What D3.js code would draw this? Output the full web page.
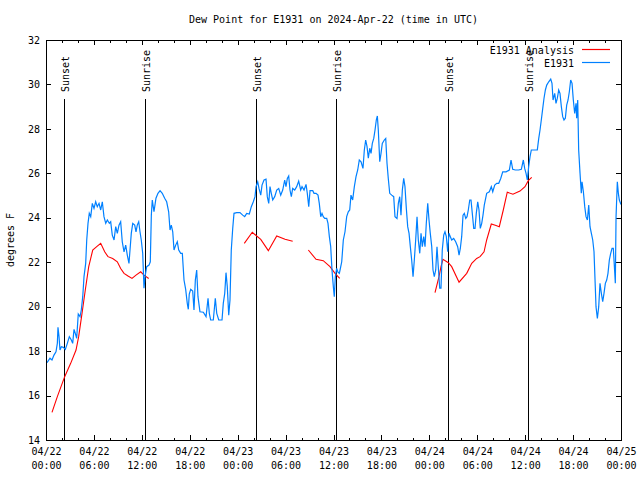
<!DOCTYPE html>
<html><head><meta charset="utf-8">
<script src="https://cdn.jsdelivr.net/npm/d3@7"></script>
<style>
body{margin:0;background:#fff;}
text{font-family:"DejaVu Sans Mono",monospace;font-size:10px;fill:#000;}
</style></head>
<body><svg id="c" width="640" height="480"></svg>
<script>
const title = "Dew Point for E1931 on 2024-Apr-22 (time in UTC)";
const yLabel = "degrees F";
const seriesNames = ["E1931 Analysis", "E1931"];
const seriesColors = ["#ff0000", "#0080ff"];
// hours since 2024-04-22 00:00 UTC
const obsHours = [0.13,0.50,0.75,1.00,1.25,1.42,1.50,1.63,1.75,1.92,2.17,2.42,2.67,2.92,3.17,3.34,3.51,3.67,3.84,4.04,4.26,4.42,4.60,4.76,4.97,5.10,5.26,5.42,5.60,5.80,6.01,6.22,6.42,6.64,6.85,7.05,7.26,7.48,7.68,7.93,8.10,8.30,8.52,8.73,8.93,9.14,9.35,9.55,9.77,9.98,10.18,10.39,10.52,10.68,10.86,11.11,11.27,11.43,11.61,11.77,11.93,12.11,12.27,12.40,12.61,12.90,13.06,13.19,13.31,13.52,13.77,14.02,14.28,14.56,14.86,15.11,15.36,15.53,15.69,15.87,16.03,16.24,16.44,16.62,16.87,17.07,17.28,17.49,17.69,17.82,17.94,18.12,18.37,18.53,18.70,18.87,19.03,19.28,19.70,20.04,20.29,20.45,20.62,20.95,21.20,21.38,21.63,22.04,22.20,22.38,22.54,22.70,22.88,23.04,23.20,23.38,23.54,23.88,24.29,24.63,24.88,25.13,25.46,25.71,25.96,26.17,26.30,26.51,26.67,26.89,27.05,27.30,27.55,27.71,27.89,28.05,28.21,28.39,28.64,28.89,29.14,29.39,29.64,29.89,30.05,30.22,30.39,30.55,30.72,30.89,31.14,31.39,31.64,31.89,32.06,32.31,32.56,32.72,32.90,33.06,33.40,33.56,33.81,34.06,34.22,34.40,34.56,34.72,34.90,35.15,35.31,35.48,35.65,35.81,35.98,36.10,36.23,36.40,36.56,36.73,36.82,37.03,37.23,37.44,37.65,37.85,38.03,38.19,38.40,38.61,38.82,39.03,39.23,39.45,39.69,39.86,40.03,40.20,40.36,40.54,40.70,40.86,41.04,41.20,41.36,41.49,41.61,41.79,41.95,42.11,42.36,42.54,42.70,42.86,43.04,43.29,43.54,43.70,43.95,44.12,44.29,44.45,44.62,44.79,44.95,45.12,45.29,45.46,45.62,45.79,45.96,46.12,46.29,46.46,46.62,46.80,46.96,47.12,47.30,47.46,47.62,47.80,47.96,48.12,48.30,48.46,48.62,48.80,48.96,49.12,49.30,49.46,49.62,49.80,49.96,50.13,50.30,50.46,50.63,50.80,51.05,51.30,51.55,51.72,51.88,52.05,52.22,52.38,52.56,52.72,52.88,53.06,53.22,53.38,53.56,53.72,53.88,54.06,54.22,54.38,54.56,54.72,54.88,55.18,55.51,55.76,55.94,56.19,56.44,56.69,56.94,57.19,57.60,58.02,58.23,58.44,58.77,59.19,59.52,59.77,59.94,60.11,60.27,60.44,60.61,60.77,61.20,61.52,61.70,61.86,62.02,62.20,62.36,62.53,62.70,62.95,63.20,63.36,63.49,63.70,63.86,64.03,64.20,64.36,64.53,64.70,64.86,65.03,65.20,65.37,65.53,65.70,65.87,66.03,66.20,66.37,66.45,66.58,66.70,66.87,67.03,67.12,67.29,67.46,67.62,67.79,67.96,68.12,68.29,68.46,68.62,68.78,68.87,69.04,69.21,69.37,69.54,69.71,69.87,70.04,70.21,70.37,70.54,70.71,70.88,71.04,71.22,71.29,71.38,71.54,71.67,71.79,72.00];
const obsValues = [17.48,17.68,17.6,17.82,17.97,18.35,19.07,18.65,18.05,18.2,18.17,18.08,18.35,18.65,18.5,18.35,18.98,18.8,18.58,19.67,19.55,19.85,20.45,21.35,21.95,23.0,23.75,24.2,24.05,24.65,24.42,24.72,24.5,24.65,24.35,24.72,24.05,23.75,23.9,23.75,23.82,23.22,23.0,23.6,23.3,23.67,23.82,22.92,22.47,22.77,22.32,21.95,22.55,23.3,23.75,23.67,23.37,23.67,23.82,23.37,23.0,22.4,20.83,21.35,21.8,21.87,22.02,24.12,24.8,24.27,24.88,25.1,25.22,25.1,24.88,24.72,24.27,23.45,23.67,23.37,22.55,22.77,22.92,22.55,22.4,22.4,21.2,20.78,20.15,19.88,20.57,20.78,20.7,19.85,21.2,21.65,20.45,19.77,19.75,19.55,20.38,19.7,19.4,19.4,20.38,19.7,19.4,19.4,20.15,20.6,21.53,20.9,19.62,20.3,22.55,23.52,24.2,24.23,24.23,24.12,24.05,24.2,24.17,24.5,24.72,24.95,25.4,25.62,25.32,25.02,25.47,25.7,25.74,24.95,24.65,25.4,25.1,24.8,24.95,25.25,25.32,25.02,25.25,25.7,25.4,25.77,25.88,25.25,24.95,25.32,25.25,25.4,25.65,25.25,25.4,25.25,25.5,25.1,24.5,25.22,25.22,25.1,25.1,25.02,24.65,24.05,24.2,24.05,23.97,23.97,23.75,23.15,22.7,21.65,20.9,20.45,21.35,21.72,21.55,21.5,21.65,22.02,23.0,23.37,24.05,24.27,24.35,25.02,24.8,25.4,25.85,26.15,26.6,26.52,26.22,27.05,27.5,27.2,26.68,27.13,26.9,27.35,27.57,27.95,28.4,28.58,27.95,26.52,26.9,27.35,27.5,27.57,26.45,25.77,25.1,25.02,24.95,24.05,23.97,24.65,24.95,24.12,25.25,25.77,25.4,24.42,23.6,23.3,22.7,22.1,21.35,22.1,23.0,24.05,23.0,22.4,23.3,22.7,23.15,22.7,23.75,24.65,23.9,23.3,22.7,21.65,21.35,21.65,22.7,21.8,20.83,20.83,22.55,23.22,23.37,23.15,22.47,23.3,23.15,23.0,23.07,22.92,22.7,22.32,22.62,23.15,24.12,24.2,23.97,24.05,24.35,24.8,24.8,24.2,23.52,23.52,24.2,24.72,24.35,23.52,23.75,24.12,24.57,25.1,25.17,25.4,25.17,25.47,25.55,25.55,25.77,26.07,26.07,26.15,26.6,26.18,26.15,26.15,26.18,26.6,26.22,26.0,25.7,26.3,26.75,27.05,27.05,27.05,27.57,27.95,28.4,28.92,29.38,29.75,29.97,30.12,30.24,30.05,29.3,29.6,29.15,29.38,29.75,29.6,29.0,28.55,28.4,28.48,29.07,29.3,29.67,30.2,30.05,29.3,28.7,29.15,28.48,29.3,27.05,26.0,25.1,25.62,25.17,24.5,24.05,23.9,24.57,23.6,23.3,23.0,22.47,20.9,20.0,19.47,20.0,21.05,20.6,20.22,20.6,21.05,21.2,21.5,22.1,22.4,22.62,22.62,21.5,21.05,24.05,25.62,25.1,24.8,24.6];
// analysis series; null marks a gap
const anaHours = [0.75,1.42,2.34,3.09,3.76,4.09,4.51,4.92,5.35,5.60,5.85,6.35,6.85,7.35,7.76,8.35,8.93,9.35,9.77,10.27,10.77,11.27,11.86,12.27,12.86,null,24.83,25.83,26.38,26.89,27.84,28.89,29.93,30.89,null,32.85,33.81,34.72,35.56,36.19,36.78,null,48.71,49.21,49.46,49.71,50.38,50.80,51.72,52.68,53.31,53.93,54.35,54.85,55.18,55.76,56.35,56.76,57.26,57.76,58.47,59.35,59.98,60.39,60.82];
const anaValues = [15.24,15.95,16.85,17.45,18.05,18.65,19.7,20.75,21.8,22.17,22.55,22.7,22.85,22.47,22.25,22.17,22.02,21.72,21.5,21.38,21.27,21.42,21.57,21.42,21.27,null,22.85,23.35,23.18,23.03,22.52,23.18,23.03,22.94,null,22.55,22.13,22.07,21.8,21.5,21.27,null,20.63,21.35,21.8,22.13,21.98,21.8,21.1,21.5,21.95,22.17,22.25,22.47,23.0,23.72,23.65,23.6,24.35,25.15,25.06,25.2,25.4,25.67,25.82];
const sunsetHours = [2.28, 26.31, 50.34];
const sunriseHours = [12.43, 36.37, 60.38];
const xTickHours = [0,6,12,18,24,30,36,42,48,54,60,66,72];
const xTickLabels = [["04/22","00:00"],["04/22","06:00"],["04/22","12:00"],["04/22","18:00"],["04/23","00:00"],["04/23","06:00"],["04/23","12:00"],["04/23","18:00"],["04/24","00:00"],["04/24","06:00"],["04/24","12:00"],["04/24","18:00"],["04/25","00:00"]];
const yTicks = [14,16,18,20,22,24,26,28,30,32];

const L=46, R=621, T=40, B=440;
const svg = d3.select("#c");
const x = d3.scaleLinear().domain([0,72]).range([L,R]);
const y = d3.scaleLinear().domain([14,32]).range([B,T]);

// title
svg.append("text").attr("x",(L+R)/2).attr("y",23).attr("text-anchor","middle").text(title);
// y label
svg.append("text").attr("transform",`translate(14,${(T+B)/2}) rotate(-90)`).attr("text-anchor","middle").text(yLabel);

// axes
const gx = svg.append("g").attr("transform",`translate(0,${B})`)
  .call(d3.axisBottom(x).tickValues(xTickHours).tickSizeInner(-5).tickSizeOuter(0).tickPadding(10).tickFormat(()=>""));
gx.select(".domain").remove();
gx.selectAll(".tick text").each(function(d,i){
  const t=d3.select(this).attr("y",15);
  t.append("tspan").attr("x",0).attr("dy","0").text(xTickLabels[i][0]);
  t.append("tspan").attr("x",0).attr("dy","14").text(xTickLabels[i][1]);
});
gx.selectAll("text").attr("font-family",null).attr("font-size",null);
const minor = d3.range(0,73,2).filter(h=>h%6!==0);
svg.append("g").attr("transform",`translate(0,${B})`).call(d3.axisBottom(x).tickValues(minor).tickSizeInner(-2.5).tickSizeOuter(0).tickFormat("")).select(".domain").remove();
const gt = svg.append("g").attr("transform",`translate(0,${T})`).call(d3.axisTop(x).tickValues(xTickHours).tickSizeInner(-5).tickSizeOuter(0).tickFormat(""));
gt.select(".domain").remove();
svg.append("g").attr("transform",`translate(0,${T})`).call(d3.axisTop(x).tickValues(minor).tickSizeInner(-2.5).tickSizeOuter(0).tickFormat("")).select(".domain").remove();

const gy = svg.append("g").attr("transform",`translate(${L},0)`)
  .call(d3.axisLeft(y).tickValues(yTicks).tickSizeInner(-5).tickSizeOuter(0).tickPadding(6).tickFormat(d3.format("d")));
gy.select(".domain").remove();
gy.selectAll("text").attr("font-family",null).attr("font-size",null);
const gr = svg.append("g").attr("transform",`translate(${R},0)`)
  .call(d3.axisRight(y).tickValues(yTicks).tickSizeInner(-5).tickSizeOuter(0).tickFormat(""));
gr.select(".domain").remove();
svg.selectAll(".tick line").attr("stroke","#000").attr("shape-rendering","crispEdges");

// sunrise / sunset
const events = sunsetHours.map(h=>({h,label:"Sunset"})).concat(sunriseHours.map(h=>({h,label:"Sunrise"})));
const eg = svg.append("g");
events.forEach(e=>{
  eg.append("line").attr("x1",Math.round(x(e.h))+0.5).attr("x2",Math.round(x(e.h))+0.5).attr("y1",99).attr("y2",B)
    .attr("stroke","#000").attr("stroke-width",1).attr("shape-rendering","crispEdges");
  eg.append("text").attr("transform",`translate(${x(e.h)+4.5},92) rotate(-90)`).text(e.label);
});

// series
const lineGen = d3.line().defined(d=>d[1]!==null).x(d=>x(d[0])).y(d=>y(d[1]));
svg.append("clipPath").attr("id","clip").append("rect").attr("x",L).attr("y",T).attr("width",R-L).attr("height",B-T);
svg.append("path").datum(anaHours.map((h,i)=>[h,anaValues[i]])).attr("d",lineGen)
  .attr("fill","none").attr("stroke",seriesColors[0]).attr("stroke-width",1.1).attr("clip-path","url(#clip)");
svg.append("path").datum(obsHours.map((h,i)=>[h,obsValues[i]])).attr("d",lineGen)
  .attr("fill","none").attr("stroke",seriesColors[1]).attr("stroke-width",1.2).attr("clip-path","url(#clip)");

// frame
svg.append("rect").attr("x",L+0.5).attr("y",T+0.5).attr("width",R-L).attr("height",B-T)
  .attr("fill","none").attr("stroke","#000").attr("shape-rendering","crispEdges");

// legend
seriesNames.forEach((n,i)=>{
  const ly = 50 + i*13;
  svg.append("text").attr("x",574).attr("y",ly+4).attr("text-anchor","end").text(n);
  svg.append("line").attr("x1",582).attr("x2",610).attr("y1",ly-0.5).attr("y2",ly-0.5).attr("stroke",seriesColors[i]).attr("stroke-width",1.2);
});
</script></body></html>
